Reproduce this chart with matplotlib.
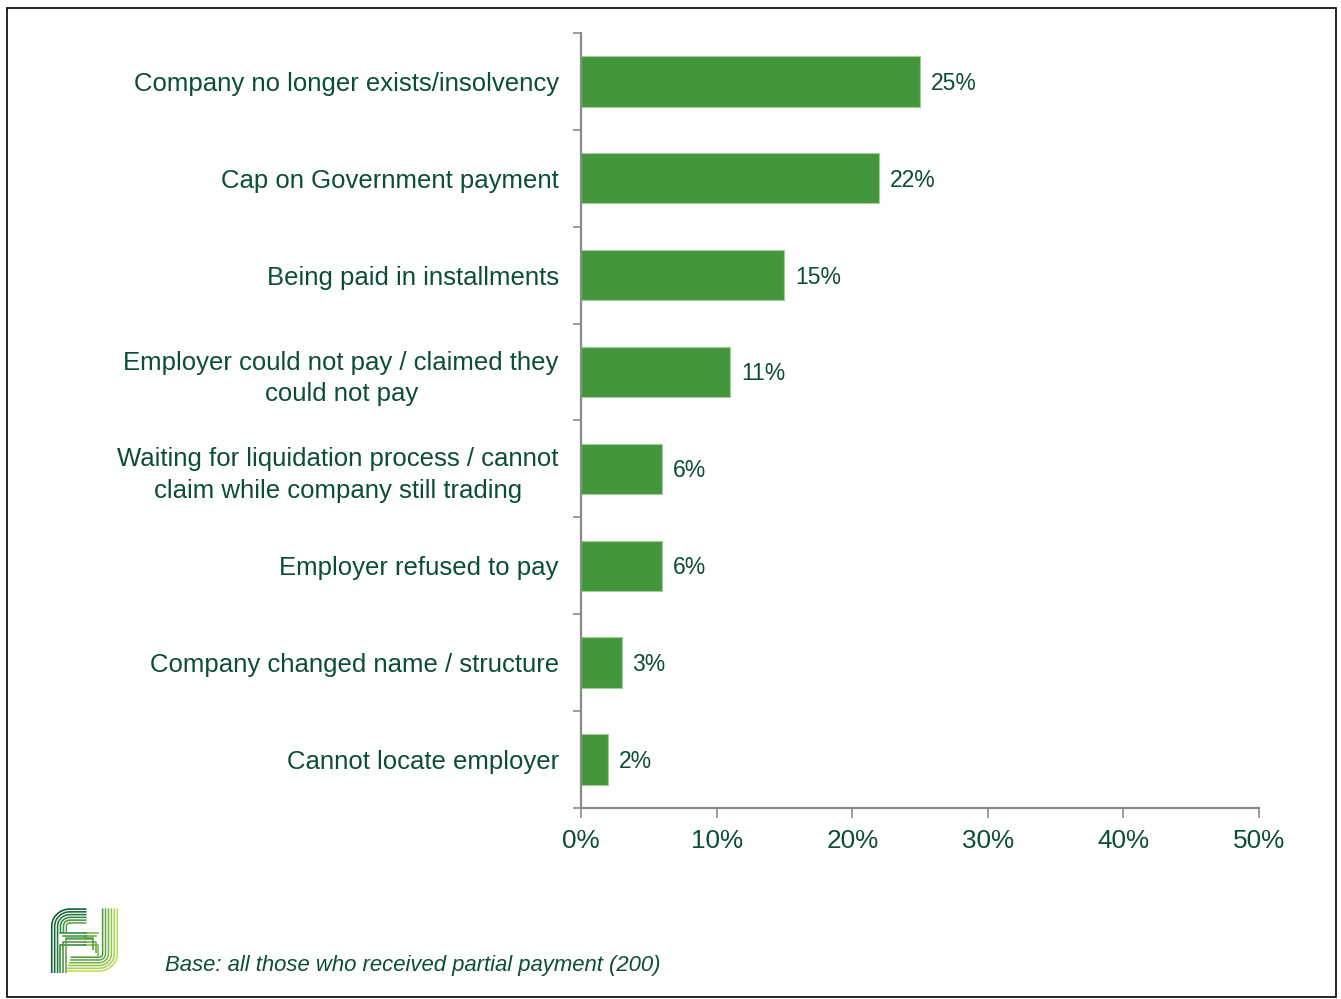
import numpy as np
import matplotlib
matplotlib.use("Agg")
import matplotlib.pyplot as plt
from matplotlib.patches import Rectangle
from matplotlib.ticker import FixedLocator, FuncFormatter

plt.rcParams['font.family'] = ['Liberation Sans', 'DejaVu Sans']

categories = [
    "Company no longer exists/insolvency",
    "Cap on Government payment",
    "Being paid in installments",
    "Employer could not pay / claimed they\ncould not pay",
    "Waiting for liquidation process / cannot\nclaim while company still trading",
    "Employer refused to pay",
    "Company changed name / structure",
    "Cannot locate employer",
]
values = [25, 22, 15, 11, 6, 6, 3, 2]
x_ticks = [0, 10, 20, 30, 40, 50]
footnote = "Base: all those who received partial payment (200)"

TEXT = "#0b4d3a"
BAR = "#43963b"
SPINE = "#868d8a"

fig = plt.figure(figsize=(13.41, 9.99), dpi=100)
fig.patches.append(Rectangle((0.005, 0.002), 0.991, 0.990, transform=fig.transFigure,
                             fill=False, edgecolor="black", linewidth=1.2))

ax = fig.add_axes([0.4333, 0.1912, 0.5056, 0.7758])
n = len(categories)
ypos = list(range(n))
ax.barh(ypos, values, height=0.52, color=BAR, edgecolor="#9fcf98", linewidth=0.8)
ax.set_ylim(n - 0.5, -0.5)
ax.set_xlim(0, 50)

for y, v in zip(ypos, values):
    ax.text(v + 0.8, y + 0.02, f"{v}%", va="center", ha="left", fontsize=16.5, color=TEXT)

ax.set_yticks(ypos)
ax.set_yticklabels(categories, fontsize=18.5, color=TEXT, multialignment="center",
                   linespacing=1.38)
ax.tick_params(axis="y", which="major", length=0, pad=16)
ax.yaxis.set_minor_locator(FixedLocator([i - 0.5 for i in range(n + 1)]))
ax.tick_params(axis="y", which="minor", length=6, width=1.2, color=SPINE, direction="out")

ax.set_xticks(x_ticks)
ax.xaxis.set_major_formatter(FuncFormatter(lambda v, p: f"{int(v)}%"))
ax.tick_params(axis="x", which="major", length=7, width=1.2, color=SPINE,
               labelsize=18.8, labelcolor=TEXT, pad=8)

for s in ("top", "right"):
    ax.spines[s].set_visible(False)
for s in ("left", "bottom"):
    ax.spines[s].set_color(SPINE)
    ax.spines[s].set_linewidth(1.6)

fig.text(0.123, 0.034, footnote, fontsize=15.9, style="italic", color=TEXT, va="center")


# logo: parallel rounded strokes forming an "F" joined to a "J"
def arc(cx, cy, r, a0, a1, k=12):
    t = np.radians(np.linspace(a0, a1, k))
    return list(cx + r * np.cos(t)), list(cy + r * np.sin(t))


lg = fig.add_axes([0.037, 0.026, 0.052, 0.066])
lg.set_xlim(0, 10)
lg.set_ylim(0, 10)
lg.axis("off")
f_cols = ["#0e5a33", "#17683a", "#23773d", "#33863f", "#479443", "#5ea347"]
j_cols = ["#c2db55", "#acd050", "#93c34b", "#7bb647", "#64a844", "#4e9a41"]
step = 0.42
LW = 1.15
for i in range(6):
    d = i * step
    r = max(2.6 - d, 0.3)
    # F: up the stem, round the corner, along the top
    ax_, ay_ = arc(0.3 + d + r, 9.7 - d - r, r, 180, 90)
    xs = [0.3 + d] + ax_ + [5.3]
    ys = [0.0] + ay_ + [9.7 - d]
    if i >= 3:
        ys = [6.1] + ay_ + [9.7 - d]
        lg.plot([0.3 + d, 0.3 + d, 5.2], [0.0, 4.3 + (i - 3) * step, 4.3 + (i - 3) * step],
                color=f_cols[i], lw=LW, solid_capstyle="butt")
        lg.plot([0.3 + d, 5.2], [6.1 - (i - 3) * step] * 2, color=f_cols[i], lw=LW)
    lg.plot(xs, ys, color=f_cols[i], lw=LW, solid_capstyle="butt")
    # J: down the right side, round the corner, along the bottom
    bx, by = arc(9.7 - d - r, 0.3 + d + r, r, 0, -90)
    lg.plot([9.7 - d] + bx + [2.4 + d * 0.3], [9.8] + by + [0.3 + d],
            color=j_cols[i], lw=LW, solid_capstyle="butt")
    if i < 3:
        # J inner bar
        lg.plot([4.9, 7.0 - i * step, 7.0 - i * step],
                [4.3 + i * step, 4.3 + i * step, 2.6 + i * step],
                color=j_cols[i + 3], lw=LW, solid_capstyle="butt")
        lg.plot([4.9, 7.0 - i * step], [6.1 - i * step] * 2, color=j_cols[i + 3], lw=LW)

fig.savefig("out.png", dpi=100)
